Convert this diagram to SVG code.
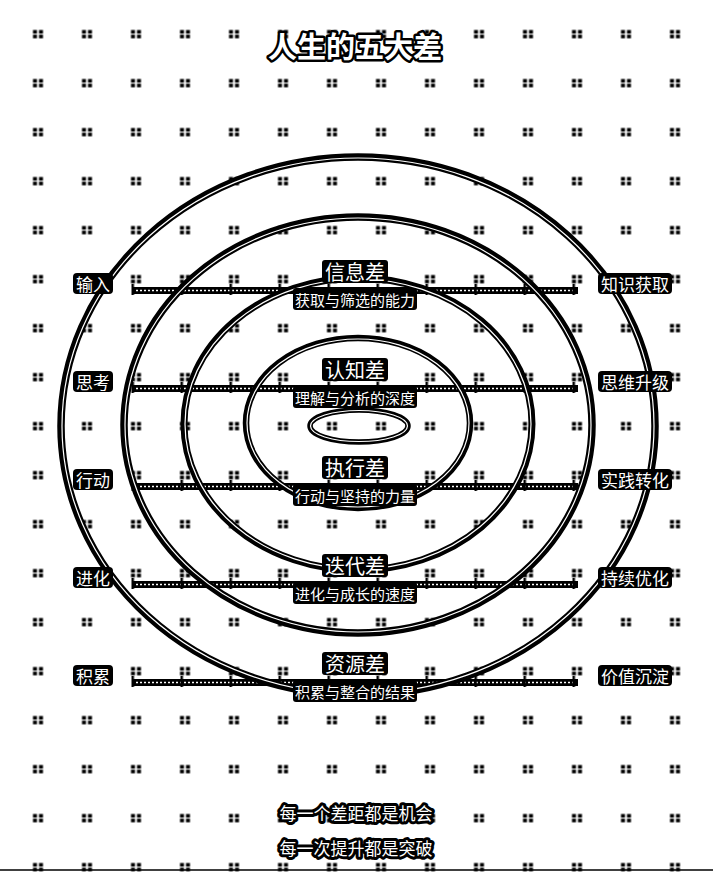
<svg xmlns="http://www.w3.org/2000/svg" width="713" height="875" viewBox="0 0 713 875">
<defs>
<pattern id="dots" patternUnits="userSpaceOnUse" x="13.5" y="9.5" width="49" height="49">
<rect x="19.5" y="20.5" width="4" height="3.6" fill="#000"/>
<rect x="25.5" y="20.5" width="4" height="3.6" fill="#000"/>
<rect x="19.5" y="25.2" width="4" height="3.6" fill="#000"/>
<rect x="25.5" y="25.2" width="4" height="3.6" fill="#000"/>
</pattern>
<pattern id="ticks" patternUnits="userSpaceOnUse" x="131.5" y="284" width="49" height="49">
<rect x="0" y="0" width="2.5" height="11" fill="#000"/>
</pattern>
<style>
.ring{fill:none;stroke:#000;}
.ringw{fill:none;stroke:#fff;stroke-width:1.2;}
.band{fill:#000;}
.dash{stroke:#fff;stroke-width:1.3;stroke-dasharray:2 2;}
.box{fill:#000;}
.t{font-family:"Noto Sans CJK SC","Noto Sans",sans-serif;fill:#fff;text-anchor:middle;dominant-baseline:central;}
.lab{font-size:17px;}
.ct{font-size:20px;}
.cs{font-size:15px;}
.halo{stroke:#000;stroke-linejoin:round;paint-order:stroke;}
</style>
</defs>
<rect width="713" height="875" fill="#fff"/>
<rect width="713" height="875" fill="url(#dots)"/>
<line x1="0" y1="870" x2="713" y2="870" stroke="#000" stroke-width="1.6"/>

<g id="connectors">
<rect class="band" x="132" y="287" width="446" height="7"/>
<line class="dash" x1="136" y1="290.5" x2="576" y2="290.5"/>
<rect x="131" y="284" width="448" height="11" fill="url(#ticks)"/>
<rect class="band" x="132" y="385" width="446" height="7"/>
<line class="dash" x1="136" y1="388.5" x2="576" y2="388.5"/>
<rect x="131" y="382" width="448" height="11" fill="url(#ticks)"/>
<rect class="band" x="132" y="483" width="446" height="7"/>
<line class="dash" x1="136" y1="486.5" x2="576" y2="486.5"/>
<rect x="131" y="480" width="448" height="11" fill="url(#ticks)"/>
<rect class="band" x="132" y="581" width="446" height="7"/>
<line class="dash" x1="136" y1="584.5" x2="576" y2="584.5"/>
<rect x="131" y="578" width="448" height="11" fill="url(#ticks)"/>
<rect class="band" x="132" y="679" width="446" height="7"/>
<line class="dash" x1="136" y1="682.5" x2="576" y2="682.5"/>
<rect x="131" y="676" width="448" height="11" fill="url(#ticks)"/>
</g>

<g id="rings">
<ellipse class="ring" cx="358" cy="426" rx="297" ry="269" stroke-width="7.5"/>
<ellipse class="ringw" cx="358" cy="426" rx="296" ry="268"/>
<ellipse class="ring" cx="358" cy="425" rx="234" ry="208" stroke-width="7.5"/>
<ellipse class="ringw" cx="358" cy="425" rx="233" ry="207"/>
<ellipse class="ring" cx="358" cy="424" rx="174" ry="146" stroke-width="7"/>
<ellipse class="ringw" cx="358" cy="424" rx="173" ry="145"/>
<ellipse class="ring" cx="358" cy="423" rx="112" ry="85" stroke-width="6.5"/>
<ellipse class="ringw" cx="358" cy="423" rx="111" ry="84"/>
<ellipse class="ring" cx="359" cy="426" rx="49" ry="16" stroke-width="5.5"/>
<ellipse class="ringw" cx="359" cy="426" rx="48.5" ry="15.5"/>
</g>

<g id="title">
<text class="t halo" x="355" y="45" font-size="29" font-weight="bold" stroke-width="5">人生的五大差</text>
</g>

<g id="row-info">
<rect class="box" x="73" y="273" width="40" height="21" rx="4"/>
<text class="t lab" x="93" y="283.5">输入</text>
<rect class="box" x="598" y="273" width="74" height="21" rx="4"/>
<text class="t lab" x="635" y="283.5">知识获取</text>
<rect class="box" x="322" y="260" width="66" height="23" rx="3"/>
<text class="t ct" x="355" y="271">信息差</text>
<rect class="box" x="293" y="288" width="124" height="22" rx="3"/>
<text class="t cs" x="355" y="299">获取与筛选的能力</text>
</g>

<g id="row-cognition">
<rect class="box" x="73" y="371" width="40" height="21" rx="4"/>
<text class="t lab" x="93" y="381.5">思考</text>
<rect class="box" x="598" y="371" width="74" height="21" rx="4"/>
<text class="t lab" x="635" y="381.5">思维升级</text>
<rect class="box" x="322" y="358" width="66" height="23" rx="3"/>
<text class="t ct" x="355" y="369">认知差</text>
<rect class="box" x="293" y="386" width="124" height="22" rx="3"/>
<text class="t cs" x="355" y="397">理解与分析的深度</text>
</g>

<g id="row-execution">
<rect class="box" x="73" y="469" width="40" height="21" rx="4"/>
<text class="t lab" x="93" y="479.5">行动</text>
<rect class="box" x="598" y="469" width="74" height="21" rx="4"/>
<text class="t lab" x="635" y="479.5">实践转化</text>
<rect class="box" x="322" y="456" width="66" height="23" rx="3"/>
<text class="t ct" x="355" y="467">执行差</text>
<rect class="box" x="293" y="484" width="124" height="22" rx="3"/>
<text class="t cs" x="355" y="495">行动与坚持的力量</text>
</g>

<g id="row-iteration">
<rect class="box" x="73" y="567" width="40" height="21" rx="4"/>
<text class="t lab" x="93" y="577.5">进化</text>
<rect class="box" x="598" y="567" width="74" height="21" rx="4"/>
<text class="t lab" x="635" y="577.5">持续优化</text>
<rect class="box" x="322" y="554" width="66" height="23" rx="3"/>
<text class="t ct" x="355" y="565">迭代差</text>
<rect class="box" x="293" y="582" width="124" height="22" rx="3"/>
<text class="t cs" x="355" y="593">进化与成长的速度</text>
</g>

<g id="row-resource">
<rect class="box" x="73" y="665" width="40" height="21" rx="4"/>
<text class="t lab" x="93" y="675.5">积累</text>
<rect class="box" x="598" y="665" width="74" height="21" rx="4"/>
<text class="t lab" x="635" y="675.5">价值沉淀</text>
<rect class="box" x="322" y="652" width="66" height="23" rx="3"/>
<text class="t ct" x="355" y="663">资源差</text>
<rect class="box" x="293" y="680" width="124" height="22" rx="3"/>
<text class="t cs" x="355" y="691">积累与整合的结果</text>
</g>

<g id="footer">
<text class="t halo lab" x="356" y="812" stroke-width="6">每一个差距都是机会</text>
<text class="t halo lab" x="356" y="847" stroke-width="6">每一次提升都是突破</text>
</g>
</svg>
